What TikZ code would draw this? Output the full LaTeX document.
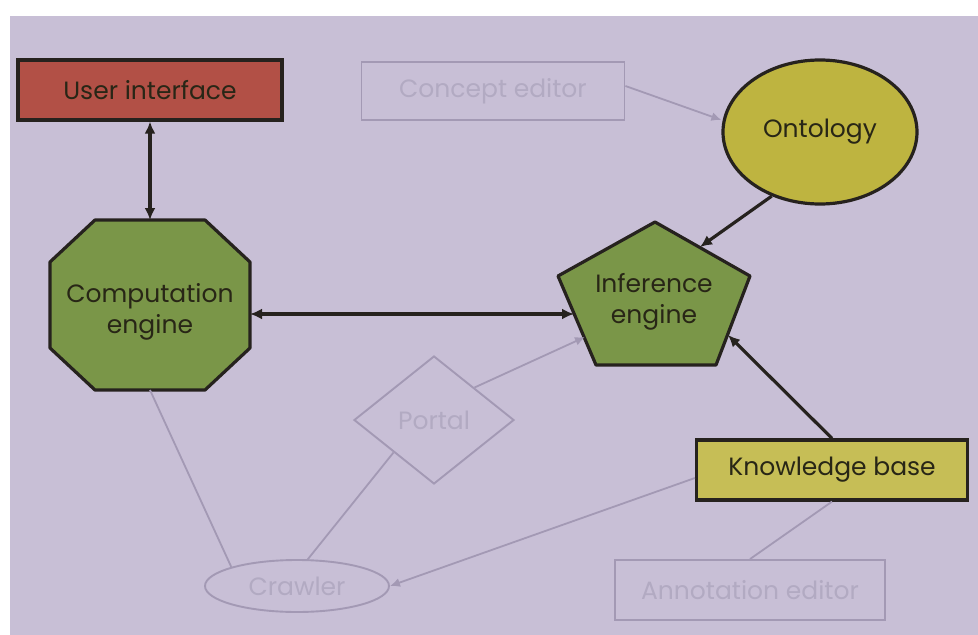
\documentclass[tikz,border=0pt]{standalone}
\usepackage{fontspec}
\setmainfont{Poppins}
\usetikzlibrary{shapes.geometric,arrows.meta}
\definecolor{bglav}{RGB}{200,191,214}
\definecolor{fadeline}{RGB}{163,153,180}
\definecolor{fadetext}{RGB}{178,170,194}
\definecolor{uired}{RGB}{178,80,70}
\definecolor{enggreen}{RGB}{122,150,72}
\definecolor{ontolive}{RGB}{190,180,64}
\definecolor{kbolive}{RGB}{198,190,86}
\definecolor{darkline}{RGB}{38,34,30}
\definecolor{darktext}{RGB}{40,38,22}
\tikzset{
  mainbox/.style={draw=darkline, line width=3.2pt, inner sep=0pt, text=darktext, font=\fontsize{25}{30}\selectfont},
  fadebox/.style={draw=fadeline, line width=1.9pt, inner sep=0pt, text=fadetext, font=\fontsize{25}{30}\selectfont},
  darkarrow/.style={draw=darkline, line width=3.2pt, -{Latex[length=12pt,width=11pt]}},
  darkdouble/.style={draw=darkline, line width=3.2pt, {Latex[length=12pt,width=11pt]}-{Latex[length=12pt,width=11pt]}},
  fadelink/.style={draw=fadeline, line width=1.8pt},
  fadearrow/.style={draw=fadeline, line width=1.8pt, -{Latex[length=10pt,width=9pt]}},
  shapeline/.style={draw=darkline, line width=3.2pt, line join=round},
  labeltext/.style={text=darktext, font=\fontsize{25}{31}\selectfont, align=center}
}
\begin{document}
\begin{tikzpicture}[x=1pt,y=-1pt]
\useasboundingbox (0,0) rectangle (978,635);
\fill[white] (0,0) rectangle (978,635);
\fill[bglav] (10,16) rectangle (978,635);

% nodes
\node[mainbox, fill=uired, minimum width=264pt, minimum height=60pt] (ui) at (150,90) {User interface};
\node[fadebox, minimum width=263pt, minimum height=58pt] (ce) at (493,91) {Concept editor};
\node[mainbox, fill=ontolive, ellipse, minimum width=194pt, minimum height=144pt] (onto) at (820,132) {Ontology};
\node[mainbox, fill=kbolive, minimum width=271pt, minimum height=60pt] (kb) at (832,470) {Knowledge base};
\node[fadebox, diamond, minimum width=160pt, minimum height=128pt] (portal) at (434,420) {Portal};
\node[fadebox, ellipse, minimum width=184pt, minimum height=52pt] (crawler) at (297,586) {Crawler};
\node[fadebox, minimum width=270pt, minimum height=60pt] (ann) at (750,590) {Annotation editor};

% computation engine (octagon)
\path[shapeline, fill=enggreen] (95,220) -- (205,220) -- (250,262) -- (250,348) -- (205,390) -- (95,390) -- (50,348) -- (50,262) -- cycle;
\node[labeltext] (comp) at (150,312) {Computation\\engine};
\coordinate (compT) at (150,220);
\coordinate (compR) at (250,314);
\coordinate (compB) at (150,390);

% inference engine (pentagon)
\path[shapeline, fill=enggreen] (655,222) -- (750,276) -- (716,365) -- (596,365) -- (558,276) -- cycle;
\node[labeltext] (inf) at (654,302) {Inference\\engine};
\coordinate (infL) at (574,314);
\coordinate (infUR) at (700,247);
\coordinate (infR) at (728,335);
\coordinate (infLL) at (585,337);

% connectors
\draw[darkdouble] (ui.south) -- (compT);
\draw[darkdouble] (compR) -- (infL);
\draw[darkarrow] (onto.233) -- (infUR);
\draw[darkarrow] (kb.north) coordinate (kbN) (kbN) -- (infR);
\draw[fadearrow] (ce.east |- 0,86) coordinate (ceE) (ceE) -- (onto.west |- 0,120);
\draw[fadelink] (compB) -- (crawler.north west);
\draw[fadelink] (portal.south west) -- (crawler.68);
\draw[fadearrow] (portal.north east) -- (infLL);
\draw[fadearrow] (kb.west |- 0,478) coordinate (kbW) (kbW) -- (crawler.east);
\draw[fadelink] (ann.north) -- (kb.south);
\end{tikzpicture}
\end{document}
